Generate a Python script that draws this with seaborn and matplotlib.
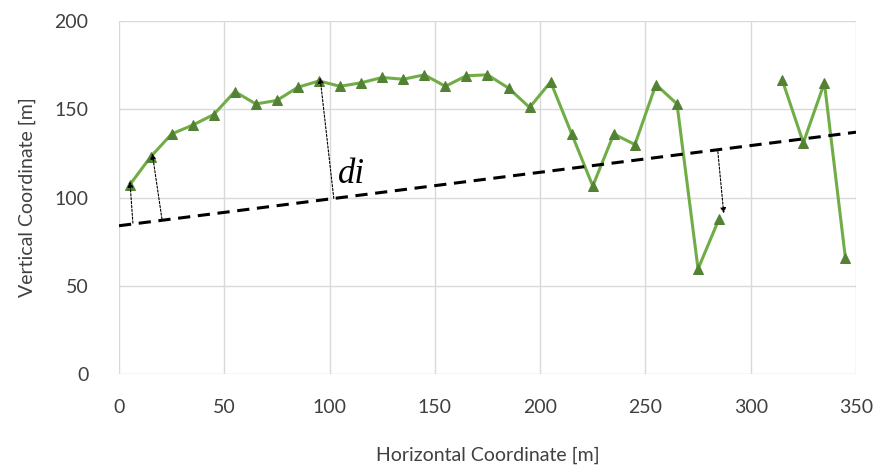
import matplotlib
matplotlib.use("Agg")
import matplotlib.pyplot as plt
import seaborn as sns
import pandas as pd
import numpy as np

# Data
horizontal = [5, 15, 25, 35, 45, 55, 65, 75, 85, 95, 105, 115, 125, 135, 145, 155, 165, 175,
              185, 195, 205, 215, 225, 235, 245, 255, 265, 275, 285,
              315, 325, 335, 345]
vertical = [107, 123, 136, 141, 147, 160, 153, 155, 162.5, 166, 163, 165, 168, 167, 169.5, 163, 169, 169.5,
            162, 151, 165.5, 136, 106.5, 136, 130, 164, 153, 59.5, 88,
            166.5, 131, 165, 65.5]
segment = [1] * 29 + [2] * 4

fit_x = [0, 350]
fit_y = [84, 137]

# arrows: (start_x, start_y) on fitted line -> (end_x, end_y) at point
arrow_start_x = [6.6, 20.4, 102, 284.4]
arrow_start_y = [85.5, 87.8, 99.5, 126]
arrow_end_x = [5.2, 15.8, 95.5, 287.2]
arrow_end_y = [109, 125, 168, 91]

x_ticks = [0, 50, 100, 150, 200, 250, 300, 350]
y_ticks = [0, 50, 100, 150, 200]

sns.set_theme(style="white")
plt.rcParams['font.family'] = ['Lato', 'DejaVu Sans']

fig = plt.figure(figsize=(8.84, 4.73), dpi=100)
ax = fig.add_axes([0.1346, 0.2093, 0.8337, 0.7463])

df = pd.DataFrame({"x": horizontal, "y": vertical, "seg": segment})
for s in sorted(set(segment)):
    sub = df[df["seg"] == s]
    sns.lineplot(data=sub, x="x", y="y", sort=False, estimator=None, ax=ax,
                 color="#70AD47", linewidth=2.2, marker="^", markersize=7.5,
                 markerfacecolor="#548235", markeredgecolor="#548235", zorder=3)

sns.lineplot(x=fit_x, y=fit_y, ax=ax, color="black", linewidth=2.2,
             linestyle=(0, (4, 2.5)), zorder=4)

for sx, sy, ex, ey in zip(arrow_start_x, arrow_start_y, arrow_end_x, arrow_end_y):
    ax.annotate("", xy=(ex, ey), xytext=(sx, sy),
                arrowprops=dict(arrowstyle="-|>", color="black", lw=0.8,
                                linestyle=(0, (2, 1.5)), mutation_scale=8,
                                shrinkA=0, shrinkB=0), zorder=5)

ax.text(104, 113, "di", fontsize=25, style="italic", family=["Liberation Serif"],
        color="black", va="center", ha="left")

ax.set_xlim(0, 350)
ax.set_ylim(0, 200)
ax.set_xticks(x_ticks)
ax.set_yticks(y_ticks)
ax.grid(True, color="#d9d9d9", linewidth=1)
for sp in ax.spines.values():
    sp.set_visible(False)
ax.tick_params(axis="both", labelsize=14, colors="#404040", length=0)
ax.tick_params(axis="x", pad=18)
ax.tick_params(axis="y", pad=22)
ax.set_xlabel("Horizontal Coordinate [m]", fontsize=14, color="#404040", labelpad=22)
ax.set_ylabel("Vertical Coordinate [m]", fontsize=14, color="#404040", labelpad=13)

fig.savefig("out.png", dpi=100)
